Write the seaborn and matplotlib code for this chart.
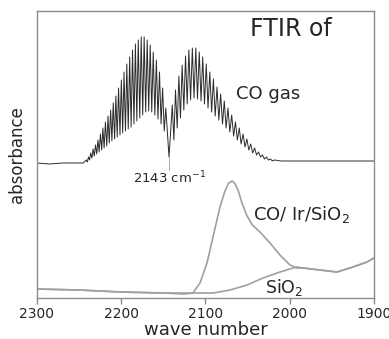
import pandas as pd
import seaborn as sns
import matplotlib.pyplot as plt

# ---- Data (absorbance in arbitrary units) ----
XTICKS = [2300, 2200, 2100, 2000, 1900]

# CO gas rotational lines, R branch (above 2143 cm-1)
r_wn = [2241.7, 2238.9, 2236.2, 2233.4, 2230.5, 2227.6, 2224.7, 2221.8, 2218.8, 2215.7,
        2212.6, 2209.5, 2206.4, 2203.2, 2199.9, 2196.7, 2193.4, 2190.0, 2186.6, 2183.2,
        2179.8, 2176.3, 2172.8, 2169.2, 2165.6, 2162.0, 2158.3, 2154.6, 2150.9, 2147.1]
r_abs = [1.38, 1.41, 1.45, 1.49, 1.53, 1.58, 1.64, 1.70, 1.76, 1.82,
         1.88, 1.95, 2.02, 2.10, 2.18, 2.26, 2.34, 2.41, 2.48, 2.54,
         2.58, 2.61, 2.61, 2.58, 2.53, 2.46, 2.38, 2.26, 2.10, 1.90]

# P branch (below 2143 cm-1)
p_wn = [2139.4, 2135.6, 2131.6, 2127.7, 2123.7, 2119.7, 2115.6, 2111.5, 2107.4, 2103.3,
        2099.1, 2094.9, 2090.6, 2086.3, 2082.0, 2077.7, 2073.3, 2068.9, 2064.4, 2059.9,
        2055.4, 2050.9, 2046.3, 2041.7, 2037.0, 2032.4, 2027.7, 2022.9, 2018.2]
p_abs = [1.93, 2.08, 2.22, 2.33, 2.42, 2.48, 2.50, 2.50, 2.46, 2.41,
         2.34, 2.26, 2.19, 2.11, 2.04, 1.97, 1.90, 1.83, 1.76, 1.70,
         1.64, 1.59, 1.54, 1.50, 1.46, 1.43, 1.41, 1.39, 1.38]

# minima between neighbouring lines
trough_wn = [2240.3, 2237.6, 2234.8, 2232.0, 2229.1, 2226.2, 2223.2, 2220.3, 2217.2, 2214.2,
             2211.1, 2207.9, 2204.8, 2201.5, 2198.3, 2195.0, 2191.7, 2188.3, 2184.9, 2181.5,
             2178.0, 2174.5, 2171.0, 2167.4, 2163.8, 2160.1, 2156.4, 2152.7, 2149.0, 2143.3,
             2137.5, 2133.6, 2129.7, 2125.7, 2121.7, 2117.7, 2113.6, 2109.5, 2105.3, 2101.2,
             2097.0, 2092.7, 2088.5, 2084.2, 2079.8, 2075.5, 2071.1, 2066.6, 2062.2, 2057.7,
             2053.1, 2048.6, 2044.0, 2039.4, 2034.7, 2030.0, 2025.3, 2020.5]
trough_abs = [1.36, 1.38, 1.40, 1.42, 1.44, 1.46, 1.48, 1.50, 1.52, 1.55,
              1.57, 1.59, 1.61, 1.63, 1.65, 1.67, 1.69, 1.71, 1.74, 1.77,
              1.80, 1.83, 1.86, 1.87, 1.86, 1.83, 1.79, 1.74, 1.67, 1.41,
              1.58, 1.70, 1.80, 1.88, 1.94, 1.98, 2.00, 1.99, 1.97, 1.94,
              1.90, 1.86, 1.82, 1.78, 1.74, 1.70, 1.66, 1.62, 1.58, 1.54,
              1.51, 1.48, 1.45, 1.43, 1.41, 1.39, 1.38, 1.37]

# flat ends of the gas trace
gas_base_wn = [2300, 2285, 2270, 2245, 2010, 1960, 1900]
gas_base_abs = [1.35, 1.34, 1.35, 1.35, 1.37, 1.37, 1.37]

# CO adsorbed on Ir/SiO2
coir_wn = [2300, 2250, 2200, 2150, 2125, 2115, 2106.5, 2098.2, 2091.1, 2082.8,
           2076.9, 2072.5, 2068.5, 2065.5, 2061.4, 2056.7, 2050.7, 2044.3, 2035.3, 2023.4,
           2011.6, 1999.7, 1991.4, 1984.3, 1964.1, 1943.9, 1925.0, 1908.3, 1900]
coir_abs = [0.09, 0.08, 0.06, 0.05, 0.04, 0.05, 0.15, 0.35, 0.61, 0.91,
            1.07, 1.15, 1.17, 1.15, 1.08, 0.95, 0.82, 0.73, 0.66, 0.55,
            0.43, 0.33, 0.30, 0.30, 0.28, 0.26, 0.31, 0.36, 0.40]

# bare SiO2 support
sio2_wn = [2300, 2250, 2200, 2150, 2125, 2091, 2070.9, 2050.7, 2031.7, 2011.6,
           2000, 1991.4, 1984.3, 1964.1, 1943.9, 1925.0, 1908.3, 1900]
sio2_abs = [0.09, 0.08, 0.06, 0.05, 0.05, 0.05, 0.08, 0.13, 0.20, 0.26,
            0.29, 0.31, 0.30, 0.28, 0.26, 0.31, 0.36, 0.40]

gas = pd.DataFrame({
    "wn": r_wn + p_wn + trough_wn + gas_base_wn,
    "absorbance": r_abs + p_abs + trough_abs + gas_base_abs,
}).sort_values("wn")
coir = pd.DataFrame({"wn": coir_wn, "absorbance": coir_abs})
sio2 = pd.DataFrame({"wn": sio2_wn, "absorbance": sio2_abs})

# ---- Plot ----
sns.set_theme(style="white")
plt.rcParams["font.family"] = ["DejaVu Sans"]
AXIS_GREY = "#8c8c8c"
CURVE_GREY = "#a0a0a0"

fig = plt.figure(figsize=(3.89, 3.39), dpi=100)
ax = fig.add_axes([0.0951, 0.1209, 0.8663, 0.8467])

sns.lineplot(data=sio2, x="wn", y="absorbance", sort=False, estimator=None,
             color=CURVE_GREY, linewidth=1.2, ax=ax)
sns.lineplot(data=coir, x="wn", y="absorbance", sort=False, estimator=None,
             color=CURVE_GREY, linewidth=1.2, ax=ax)
sns.lineplot(data=gas, x="wn", y="absorbance", sort=False, estimator=None,
             color="#2b2b2b", linewidth=0.7, ax=ax)
ax.plot([2143.3, 2143.3], [1.41, 1.28], color=CURVE_GREY, linewidth=0.6)

ax.set_xlim(2300, 1900)
ax.set_ylim(0, 2.87)
ax.set_xticks(XTICKS)
ax.set_yticks([])
ax.tick_params(axis="x", direction="out", length=4.5, width=1, color=AXIS_GREY,
               labelsize=10, pad=2, bottom=True)
for sp in ax.spines.values():
    sp.set_color(AXIS_GREY)
    sp.set_linewidth(1)

ax.set_xlabel("wave number", fontsize=13, labelpad=0)
ax.set_ylabel("absorbance", fontsize=12, labelpad=8)

ax.text(2047, 2.685, "FTIR of", fontsize=17, ha="left", va="center")
ax.text(2064, 2.04, "CO gas", fontsize=13, ha="left", va="center")
ax.text(2186, 1.15, "2143 cm$^{-1}$", fontsize=9.5, ha="left", va="baseline")
ax.text(2043.5, 0.78, "CO/ Ir/SiO$_2$", fontsize=13, ha="left", va="baseline")
ax.text(2029, 0.05, "SiO$_2$", fontsize=12.5, ha="left", va="baseline")

fig.savefig("out.png", dpi=100)
plt.close(fig)
